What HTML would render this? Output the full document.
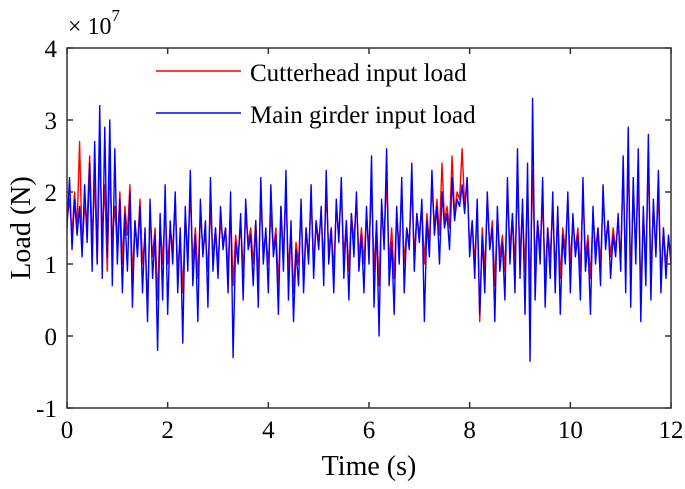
<!DOCTYPE html>
<html><head><meta charset="utf-8"><style>
body{margin:0;background:#fff;}
svg{display:block;font-family:"Liberation Serif",serif;}
</style></head><body>
<svg id="chart" width="685" height="489">
<rect width="685" height="489" fill="#fff"/>
<g id="series"></g>
<g id="axes"></g>
</svg>
<script>
const xTicks=[0,2,4,6,8,10,12];
const yTicks=[-1,0,1,2,3,4];
const dt=0.05;
const cutterheadLoad=[
1.6,1.9,1.4,2.0,1.5,2.7,1.2,1.8,1.6,2.5,1.3,2.2,1.0,2.6,1.4,2.1,0.9,2.4,1.3,1.8,
1.2,2.0,1.0,1.8,1.4,2.1,0.8,1.6,1.2,1.9,1.0,1.4,0.4,1.7,1.1,1.5,0.5,1.6,1.0,1.8,
1.0,1.5,1.2,1.9,0.9,1.4,0.6,1.7,1.1,2.0,1.0,1.5,0.8,1.7,1.2,1.4,0.9,1.8,1.1,1.5,
1.0,1.6,1.3,1.5,0.9,1.8,0.7,1.4,1.1,1.6,0.9,1.7,1.3,1.5,1.0,1.6,0.8,1.9,1.2,1.4,
1.0,1.7,1.2,1.5,0.7,1.8,1.1,2.0,0.9,1.5,0.6,1.3,1.0,1.8,0.8,1.5,1.1,1.9,1.0,1.6,
1.3,1.7,1.0,2.0,1.2,1.5,0.9,1.8,1.4,2.0,1.1,1.6,0.9,1.7,1.3,1.9,1.1,1.5,1.0,1.7,
1.2,2.1,0.9,1.6,0.7,1.8,1.3,2.2,1.0,1.5,0.8,1.7,1.2,2.0,1.0,1.5,1.3,2.1,1.1,1.7,
1.4,1.8,1.0,1.7,1.3,2.1,1.5,1.9,1.4,2.4,1.6,1.8,1.5,2.5,1.7,2.0,1.9,2.6,1.8,2.2,
1.2,1.6,1.0,1.8,0.2,1.5,0.9,1.9,1.2,1.6,0.7,1.7,1.1,1.4,0.9,2.0,1.2,1.7,1.0,2.1,
1.1,1.8,0.9,2.1,0.6,2.3,1.0,1.6,1.2,1.9,0.8,1.5,1.1,1.8,0.9,1.7,0.8,1.5,1.2,1.9,
1.0,1.6,1.2,1.5,0.9,2.0,1.1,1.4,0.8,1.7,1.2,1.5,1.0,1.9,1.3,1.6,1.1,1.5,1.2,1.6,
1.1,2.3,0.9,2.5,0.8,2.0,1.2,2.2,0.6,1.7,1.0,2.4,0.9,1.8,1.2,2.0,0.8,1.5,1.0,1.3,
1.2];
const girderLoad=[
1.5,2.2,1.2,1.9,1.4,1.8,1.1,2.1,1.3,2.4,0.9,2.7,1.0,3.2,0.8,2.9,1.1,3.0,0.7,2.6,
1.0,1.9,0.6,1.7,0.9,2.0,0.4,1.6,1.1,1.8,0.6,1.5,0.2,1.9,0.8,1.4,-0.2,1.7,0.5,2.1,
0.3,1.6,1.0,2.0,0.6,1.5,-0.1,1.8,0.9,2.3,0.7,1.4,0.2,1.9,1.1,1.6,0.4,2.2,0.9,1.5,
0.8,1.8,1.2,1.5,0.6,2.0,-0.3,1.3,1.0,1.7,0.5,1.9,1.2,1.4,0.7,1.6,0.4,2.2,1.0,1.5,
0.6,2.1,1.1,1.4,0.3,1.8,0.9,2.3,0.5,1.6,0.2,1.2,0.7,1.9,0.6,1.5,1.0,2.1,0.8,1.6,
1.2,1.8,0.7,2.3,1.0,1.5,0.6,1.9,1.3,2.2,0.8,1.6,0.5,1.7,1.1,2.0,0.9,1.4,0.6,1.8,
1.0,2.5,0.4,1.6,0.0,1.9,1.2,2.6,0.7,1.3,0.3,1.8,1.0,2.2,0.6,1.5,1.2,2.4,0.9,1.7,
1.3,1.9,0.2,1.6,1.1,2.3,1.4,1.8,1.0,2.0,1.5,1.7,1.2,2.2,1.6,1.9,1.8,2.1,1.7,2.2,
1.1,1.6,0.8,1.9,0.3,1.4,0.6,2.0,1.2,1.5,0.2,1.8,0.9,1.3,0.5,2.2,1.0,1.7,0.6,2.6,
0.8,1.9,0.3,2.4,-0.35,3.3,0.5,1.6,1.0,2.2,0.4,1.5,0.8,2.0,0.6,1.8,0.3,1.4,1.0,2.0,
0.6,1.7,1.1,1.4,0.5,2.2,0.9,1.3,0.3,1.8,1.0,1.5,0.7,2.1,1.2,1.6,0.8,1.4,1.1,1.7,
0.9,2.5,0.6,2.9,0.4,2.2,1.0,2.6,0.2,1.8,0.7,2.8,0.5,1.9,1.1,2.3,0.6,1.5,0.8,1.4,
1.0];
const X0=67,X1=671,Y0=408,Y1=48;
function sx(t){return X0+(t-0)/(12-0)*(X1-X0);}
function sy(v){return Y0-(v-(-1))/(4-(-1))*(Y0-Y1);}
const NS='http://www.w3.org/2000/svg';
function mk(tag,attrs,parent,text){const e=document.createElementNS(NS,tag);for(const k in attrs)e.setAttribute(k,attrs[k]);if(text!==undefined)e.textContent=text;parent.appendChild(e);return e;}
const S=document.getElementById('series'),A=document.getElementById('axes');
function line(data,color,name){
  const pts=data.map((v,i)=>sx(i*dt).toFixed(2)+','+sy(v).toFixed(2)).join(' ');
  const p=mk('polyline',{points:pts,fill:'none',stroke:color,'stroke-width':1.4,'stroke-linejoin':'round'},S);
  
  
}
line(cutterheadLoad,'#ff0000','cutterhead-load-line');
line(girderLoad,'#0000ff','main-girder-load-line');
const box=mk('rect',{x:X0,y:Y1,width:X1-X0,height:Y0-Y1,fill:'none',stroke:'#333','stroke-width':1.5},A);


xTicks.forEach(t=>{
  const x=sx(t);
  mk('line',{x1:x,y1:Y0,x2:x,y2:Y0-6,stroke:'#333','stroke-width':1.5},A);
  mk('line',{x1:x,y1:Y1,x2:x,y2:Y1+6,stroke:'#333','stroke-width':1.5},A);
  const l=mk('text',{x:x,y:Y0+30,'text-anchor':'middle','font-size':25},A,String(t));
  
  
});
yTicks.forEach(v=>{
  const y=sy(v);
  mk('line',{x1:X0,y1:y,x2:X0+6,y2:y,stroke:'#333','stroke-width':1.5},A);
  mk('line',{x1:X1,y1:y,x2:X1-6,y2:y,stroke:'#333','stroke-width':1.5},A);
  const l=mk('text',{x:X0-10,y:y+9,'text-anchor':'end','font-size':25},A,String(v));
  
  
});
</script>
<svg style="position:absolute;left:0;top:0" width="685" height="489" font-family="Liberation Serif, serif">
<text x="68" y="34" font-size="24">× 10<tspan dy="-13" font-size="17">7</tspan></text>
<g>
<line x1="156" y1="71" x2="241" y2="71" stroke="#ff0000" stroke-width="1.5"/>
<text x="250" y="81" font-size="25">Cutterhead input load</text>
<line x1="156" y1="113" x2="241" y2="113" stroke="#0000ff" stroke-width="1.5"/>
<text x="250" y="123" font-size="25">Main girder input load</text>
</g>
<text x="369" y="475" font-size="28" text-anchor="middle">Time (s)</text>
<text transform="translate(30,228) rotate(-90)" font-size="28" text-anchor="middle">Load (N)</text>
</svg>
</body></html>
